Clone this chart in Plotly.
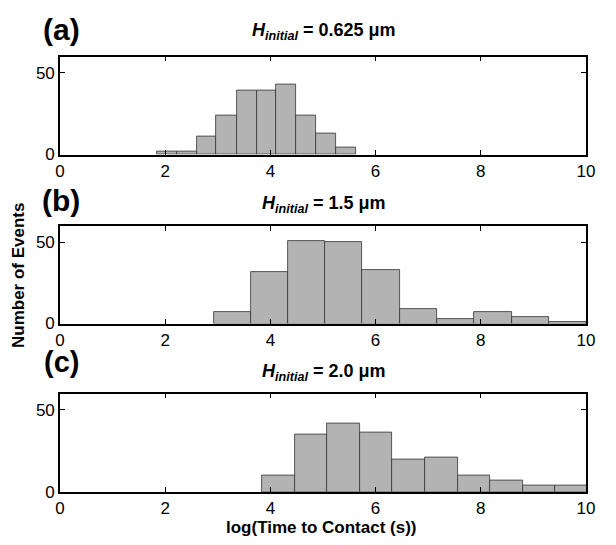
import plotly.graph_objects as go

# ---- data ----
edges_a = [1.85, 2.22, 2.60, 2.97, 3.36, 3.74, 4.11, 4.49, 4.87, 5.25, 5.63]
counts_a = [2, 2, 11, 24, 39, 39, 43, 24, 13, 4]

edges_b = [2.92, 3.63, 4.33, 5.04, 5.75, 6.46, 7.17, 7.88, 8.59, 9.29, 10.0]
counts_b = [7, 32, 51, 50, 33, 9, 3, 7, 4, 1]

edges_c = [3.84, 4.46, 5.08, 5.70, 6.32, 6.94, 7.56, 8.18, 8.80, 9.42, 10.04]
counts_c = [10, 35, 42, 36, 20, 21, 10, 7, 4, 4]

panel_labels = ["(a)", "(b)", "(c)"]
panel_titles = ["0.625", "1.5", "2.0"]
x_ticks = [0, 2, 4, 6, 8, 10]
y_ticks = [0, 50]

# page body has an 8px default margin; work in page pixels and convert
OFF = 8
W, H = 600, 529


def fx(px):
    return (px - OFF) / W


def fy(py):
    return 1 - (py - OFF) / H


X0, X1 = 60, 586
panel_px = [(56.5, 154.5), (226, 323.5), (393.5, 492)]

fig = go.Figure()
FONT = "Liberation Sans, Arial, sans-serif"

datasets = [(edges_a, counts_a), (edges_b, counts_b), (edges_c, counts_c)]
for i, (edges, counts) in enumerate(datasets):
    centers = [(edges[k] + edges[k + 1]) / 2 for k in range(len(counts))]
    widths = [edges[k + 1] - edges[k] for k in range(len(counts))]
    xa = "x" if i == 0 else f"x{i+1}"
    ya = "y" if i == 0 else f"y{i+1}"
    fig.add_trace(go.Bar(
        x=centers, y=counts, width=widths,
        marker=dict(color="#b3b3b3", line=dict(color="#333333", width=0.8)),
        xaxis=xa, yaxis=ya, showlegend=False,
    ))
    top, bot = panel_px[i]
    sfx = "" if i == 0 else str(i + 1)
    axcommon = dict(showline=True, linecolor="black", linewidth=1.6, mirror="ticks",
                    ticks="inside", ticklen=5, tickwidth=1.3, tickcolor="black",
                    showgrid=False, zeroline=False, automargin=False,
                    tickfont=dict(family=FONT, size=17, color="black"))
    fig.layout["xaxis" + sfx] = dict(domain=[fx(X0), fx(X1)], range=[0, 10],
                                     tickvals=x_ticks, anchor="y" + sfx, **axcommon)
    fig.layout["yaxis" + sfx] = dict(domain=[fy(bot), fy(top)], range=[0, 60],
                                     tickvals=y_ticks, anchor="x" + sfx, **axcommon)

annotations = []
label_y = [30, 200, 362]
label_size = [30, 30, 29]
title_y = [32, 204, 372]
for i in range(3):
    annotations.append(dict(text="<b>" + panel_labels[i] + "</b>", x=fx(61), y=fy(label_y[i]),
                            xref="paper", yref="paper", showarrow=False,
                            xanchor="center", yanchor="middle",
                            font=dict(family=FONT, size=label_size[i], color="black")))
    annotations.append(dict(
        text="<b><i>H</i><sub><i>initial</i></sub> = " + panel_titles[i] + " μm</b>",
        x=fx((X0 + X1) / 2), y=fy(title_y[i]), xref="paper", yref="paper",
        showarrow=False, xanchor="center", yanchor="middle",
        font=dict(family=FONT, size=18, color="black")))

annotations.append(dict(text="<b>Number of Events</b>", x=fx(18), y=fy(276),
                        xref="paper", yref="paper", showarrow=False, textangle=-90,
                        xanchor="center", yanchor="middle",
                        font=dict(family=FONT, size=17, color="black")))
annotations.append(dict(text="<b>log(Time to Contact (s))</b>", x=fx(321), y=fy(527.5),
                        xref="paper", yref="paper", showarrow=False,
                        xanchor="center", yanchor="middle",
                        font=dict(family=FONT, size=17, color="black")))

fig.update_layout(width=W, height=H, margin=dict(l=0, r=0, t=0, b=0),
                  paper_bgcolor="white", plot_bgcolor="white", bargap=0,
                  annotations=annotations)

fig.write_html("out.html")
